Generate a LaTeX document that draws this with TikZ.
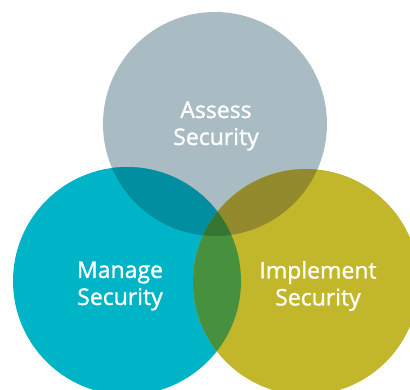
\documentclass[tikz,border=0pt]{standalone}
\usepackage{fontspec}
\setmainfont{Open Sans}
\newfontfamily\lblfont[FakeBold=1.2]{Open Sans}
\definecolor{cTop}{RGB}{169,188,196}
\definecolor{cLeft}{RGB}{0,180,200}
\definecolor{cRight}{RGB}{194,182,42}
\definecolor{cTL}{RGB}{0,142,160}
\definecolor{cTR}{RGB}{146,138,44}
\definecolor{cLR}{RGB}{70,144,62}
\definecolor{cAll}{RGB}{52,118,50}
\tikzset{lbl/.style={text=white,font=\lblfont\fontsize{23}{27}\selectfont,align=center,inner sep=0pt}}
\begin{document}
\begin{tikzpicture}[x=1pt,y=-1pt]
\useasboundingbox (0,0) rectangle (410,390);
\begin{scope}
\clip (0,0) rectangle (410,390);
\def\topc{(215,124) circle (112)}
\def\leftc{(127,281) circle (114)}
\def\rightc{(306,282) circle (113)}
\fill[cTop] \topc;
\fill[cLeft] \leftc;
\fill[cRight] \rightc;
\begin{scope}\clip \topc; \fill[cTL] \leftc; \fill[cTR] \rightc;\end{scope}
\begin{scope}\clip \leftc; \fill[cLR] \rightc;\end{scope}
\begin{scope}\clip \topc; \clip \leftc; \fill[cAll] \rightc;\end{scope}
\end{scope}
\node[lbl] (assess) at (216,126) {Assess\\Security};
\node[lbl] (manage) at (120,286) {Manage\\Security};
\node[lbl] (implement) at (318,286) {Implement\\Security};
\end{tikzpicture}
\end{document}
